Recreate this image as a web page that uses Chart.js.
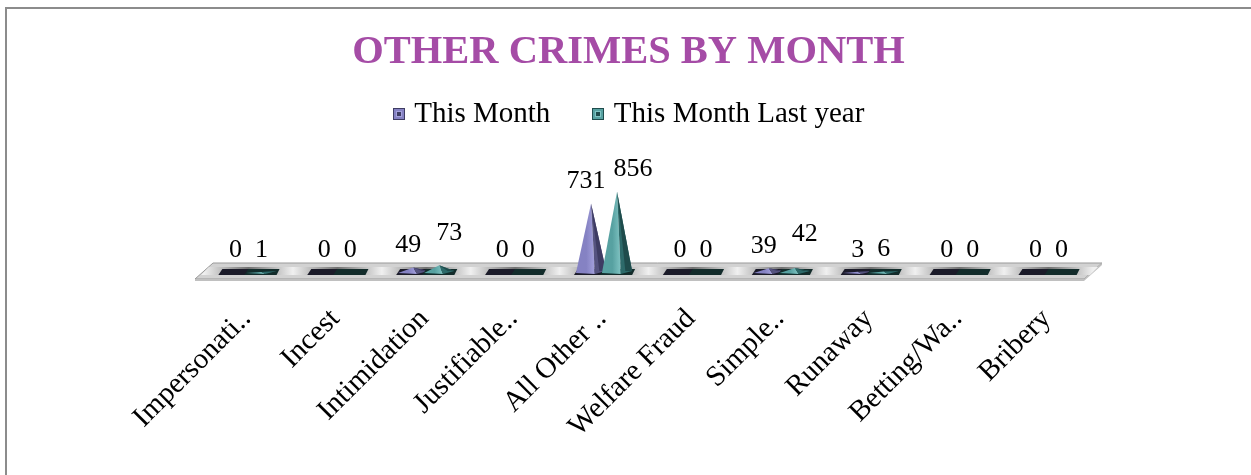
<!DOCTYPE html>
<html>
<head>
<meta charset="utf-8">
<script src="https://cdn.jsdelivr.net/npm/chart.js@4.4.0/dist/chart.umd.min.js"></script>
<style>
html, body { margin: 0; padding: 0; background: #fff; }
#wrap { position: relative; width: 1251px; height: 475px; overflow: hidden; }
#frame { position: absolute; left: 5px; top: 7px; width: 1300px; height: 500px; border-left: 2px solid #8c8c8c; border-top: 2px solid #8c8c8c; }
canvas { position: absolute; left: 0; top: 0; }
</style>
</head>
<body>
<div id="wrap"><div id="frame"></div><canvas id="c" width="1251" height="475"></canvas></div>
<script>
// --- DATA ---
const categories = ['Impersonati..', 'Incest', 'Intimidation', 'Justifiable..', 'All Other ..', 'Welfare Fraud', 'Simple..', 'Runaway', 'Betting/Wa..', 'Bribery'];
const thisMonth = [0, 0, 49, 0, 731, 0, 39, 3, 0, 0];
const lastYear = [1, 0, 73, 0, 856, 0, 42, 6, 0, 0];
const seriesNames = ['This Month', 'This Month Last year'];

const SERIF = '"Liberation Serif", "Times New Roman", serif';
const palette = [
    { face: '#8582c3', light: '#a4a1dd', dark: '#55537f', edge: '#3e3c63', foot: '#1b1b29' },
    { face: '#57a1a1', light: '#80c4c3', dark: '#2d6a6a', edge: '#1f4c4c', foot: '#132c2b' }
];

// --- FLOOR + PYRAMIDS ---
function drawFloor(chart) {
    const ctx = chart.ctx;
    const { left, right } = chart.chartArea;
    const b = chart.scales.y.getPixelForValue(0);
    const sk = 9;
    ctx.save();
    // slab top
    ctx.beginPath();
    ctx.moveTo(left + sk, b - 9);
    ctx.lineTo(right + sk, b - 9);
    ctx.lineTo(right - sk, b + 7);
    ctx.lineTo(left - sk, b + 7);
    ctx.closePath();
    ctx.fillStyle = '#d2d2d2';
    ctx.fill();
    ctx.strokeStyle = '#999999';
    ctx.lineWidth = 1;
    ctx.stroke();
    // front + side edges
    ctx.fillStyle = '#c0c0c0';
    ctx.beginPath();
    ctx.moveTo(left - sk, b + 7);
    ctx.lineTo(right - sk, b + 7);
    ctx.lineTo(right - sk, b + 9);
    ctx.lineTo(left - sk, b + 9);
    ctx.closePath();
    ctx.fill();
    ctx.beginPath();
    ctx.moveTo(right + sk, b - 9);
    ctx.lineTo(right + sk, b - 7);
    ctx.lineTo(right - sk, b + 9);
    ctx.lineTo(right - sk, b + 7);
    ctx.closePath();
    ctx.fill();
    // metallic inner strip
    const g = ctx.createLinearGradient(left, 0, right, 0);
    const n = categories.length;
    for (let i = 0; i <= n; i++) {
        g.addColorStop(i / n, '#f0f0f0');
        if (i < n) g.addColorStop((i + 0.5) / n, '#707070');
    }
    ctx.beginPath();
    ctx.moveTo(left + 5, b - 5);
    ctx.lineTo(right + 5, b - 5);
    ctx.lineTo(right - 3, b + 3);
    ctx.lineTo(left - 3, b + 3);
    ctx.closePath();
    ctx.fillStyle = g;
    ctx.fill();
    ctx.restore();
}

const pyramidPlugin = {
    id: 'pyramids',
    beforeDatasetsDraw(chart) { drawFloor(chart); },
    afterDatasetsDraw(chart) {
        const ctx = chart.ctx;
        ctx.save();
        chart.data.datasets.forEach((ds, di) => {
            const meta = chart.getDatasetMeta(di);
            const pal = palette[di];
            meta.data.forEach((bar, i) => {
                const half = bar.width * 0.58;
                const bx = bar.x, base = bar.base, top = bar.y;
                // footprint on the floor
                ctx.fillStyle = pal.foot;
                ctx.beginPath();
                ctx.moveTo(bx - half + 2, base - 3);
                ctx.lineTo(bx + half + 3, base - 3);
                ctx.lineTo(bx + half, base + 3);
                ctx.lineTo(bx - half - 2, base + 3);
                ctx.closePath();
                ctx.fill();
                if (ds.data[i] <= 0) return;
                const ridge = bx + half * 0.25;
                // front face
                const fg = ctx.createLinearGradient(bx - half, 0, ridge, 0);
                fg.addColorStop(0, pal.face);
                fg.addColorStop(0.55, pal.face);
                fg.addColorStop(1, pal.light);
                ctx.fillStyle = fg;
                ctx.beginPath();
                ctx.moveTo(bx, top);
                ctx.lineTo(bx - half, base + 1);
                ctx.lineTo(ridge, base + 2);
                ctx.closePath();
                ctx.fill();
                // right face
                ctx.fillStyle = pal.dark;
                ctx.beginPath();
                ctx.moveTo(bx, top);
                ctx.lineTo(ridge, base + 2);
                ctx.lineTo(bx + half, base - 1);
                ctx.closePath();
                ctx.fill();
                // dark sliver on the shaded side
                ctx.fillStyle = pal.edge;
                ctx.beginPath();
                ctx.moveTo(bx, top);
                ctx.lineTo(bx + half * 0.55, base - 1);
                ctx.lineTo(bx + half, base - 1);
                ctx.closePath();
                ctx.fill();
            });
        });
        ctx.restore();
    }
};

// --- VALUE LABELS ---
const valueLabelPlugin = {
    id: 'valueLabels',
    afterDatasetsDraw(chart) {
        const ctx = chart.ctx;
        ctx.save();
        ctx.font = '26px ' + SERIF;
        ctx.fillStyle = '#000';
        ctx.textAlign = 'center';
        ctx.textBaseline = 'middle';
        const m0 = chart.getDatasetMeta(0).data;
        const m1 = chart.getDatasetMeta(1).data;
        categories.forEach((c, i) => {
            const t0 = String(thisMonth[i]), t1 = String(lastYear[i]);
            const w0 = ctx.measureText(t0).width, w1 = ctx.measureText(t1).width;
            let x0 = m0[i].x, x1 = m1[i].x;
            let y0 = m0[i].y - 22, y1 = m1[i].y - 22;
            if ((w0 + w1) / 2 + 4 > x1 - x0) {
                x0 -= 5;
                x1 = Math.max(x1 + 10, x0 + w0 / 2 + 8 + w1 / 2);
                if (y0 - y1 < 12) y1 = y0 - 12;
            }
            ctx.fillText(t0, x0, y0);
            ctx.fillText(t1, x1, y1);
        });
        ctx.restore();
    }
};

// --- LEGEND BOXES ---
const legendBoxPlugin = {
    id: 'legendBoxes',
    afterDraw(chart) {
        const ctx = chart.ctx;
        const boxes = chart.legend.legendHitBoxes;
        ctx.save();
        boxes.forEach((h, i) => {
            const pal = palette[i];
            const x = Math.round(h.left), y = Math.round(h.top + h.height / 2 - 6);
            ctx.fillStyle = pal.face;
            ctx.fillRect(x, y, 12, 12);
            ctx.strokeStyle = pal.edge;
            ctx.lineWidth = 1;
            ctx.strokeRect(x + 0.5, y + 0.5, 11, 11);
            ctx.strokeStyle = pal.light;
            ctx.strokeRect(x + 3.5, y + 3.5, 5, 5);
            ctx.fillStyle = pal.edge;
            ctx.fillRect(x + 4, y + 4, 4, 4);
        });
        ctx.restore();
    }
};

new Chart(document.getElementById('c').getContext('2d'), {
    type: 'bar',
    data: {
        labels: categories,
        datasets: [
            { label: seriesNames[0], data: thisMonth, backgroundColor: 'rgba(0,0,0,0)', borderWidth: 0 },
            { label: seriesNames[1], data: lastYear, backgroundColor: 'rgba(0,0,0,0)', borderWidth: 0 }
        ]
    },
    options: {
        responsive: false,
        animation: false,
        datasets: { bar: { categoryPercentage: 0.585, barPercentage: 1 } },
        layout: { padding: { left: 9, right: 3, top: 0, bottom: 0 } },
        plugins: {
            title: {
                display: true,
                text: 'OTHER CRIMES BY MONTH',
                color: '#a54ca6',
                font: { family: SERIF, size: 40.5, weight: 'bold' },
                padding: { top: 28, bottom: -19 }
            },
            legend: {
                position: 'top',
                labels: {
                    color: '#000',
                    font: { family: SERIF, size: 29 },
                    boxWidth: 7,
                    boxHeight: 12,
                    padding: 42,
                    generateLabels: (chart) => chart.data.datasets.map((ds, i) => ({
                        text: ds.label,
                        fillStyle: 'rgba(0,0,0,0)',
                        strokeStyle: 'rgba(0,0,0,0)',
                        lineWidth: 0,
                        datasetIndex: i
                    }))
                }
            },
            tooltip: { enabled: false }
        },
        scales: {
            x: {
                grid: { display: false },
                border: { display: false },
                ticks: {
                    color: '#000',
                    font: { family: SERIF, size: 29 },
                    minRotation: 45,
                    maxRotation: 45,
                    autoSkip: false,
                    padding: 22,
                    labelOffset: -2
                },
                afterFit: (s) => { s.height = 203; }
            },
            y: {
                min: 0, max: 1424,
                grid: { display: false },
                border: { display: false },
                ticks: { display: false },
                afterFit: (s) => { s.width = 195; }
            },
            y2: {
                position: 'right',
                grid: { display: false },
                border: { display: false },
                ticks: { display: false },
                afterFit: (s) => { s.width = 155; }
            }
        }
    },
    plugins: [pyramidPlugin, valueLabelPlugin, legendBoxPlugin]
});
</script>
</body>
</html>
